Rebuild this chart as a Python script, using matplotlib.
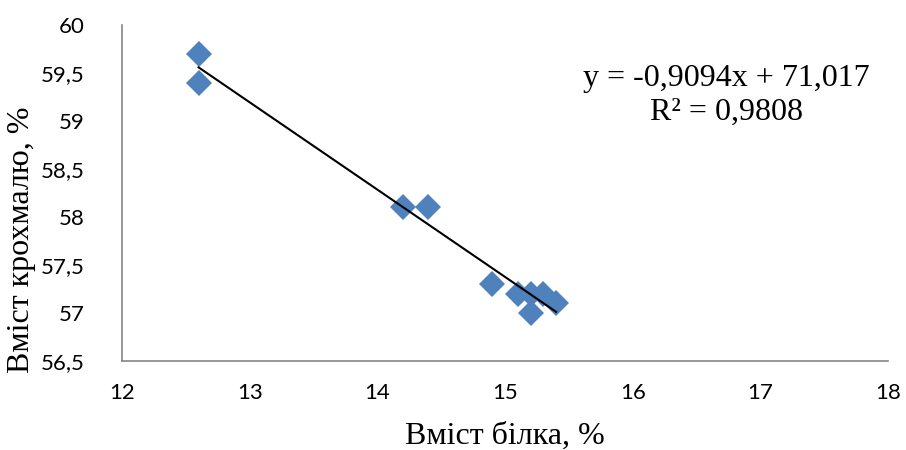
import matplotlib
matplotlib.use("Agg")
import matplotlib.pyplot as plt
import numpy as np

protein = [12.6, 12.6, 14.2, 14.4, 14.9, 15.1, 15.2, 15.3, 15.4, 15.2]
starch = [59.7, 59.4, 58.1, 58.1, 57.3, 57.2, 57.2, 57.2, 57.1, 57.0]
slope, intercept = -0.9094, 71.017
eq_text = "y = -0,9094x + 71,017\nR² = 0,9808"
x_ticks = [12, 13, 14, 15, 16, 17, 18]
y_ticks = [56.5, 57, 57.5, 58, 58.5, 59, 59.5, 60]

fig = plt.figure(figsize=(9.06, 4.5), dpi=100)
ax = fig.add_axes([122/906, 89/450, 766/906, 336/450])

ax.plot(protein, starch, linestyle="none", marker="D", markersize=13,
        color="#4F81BD", markeredgewidth=0, zorder=3)
xs = np.array([min(protein), max(protein)])
ax.plot(xs, slope * xs + intercept, color="black", linewidth=1.5, zorder=4)

ax.set_xlim(12, 18)
ax.set_ylim(56.5, 60)
ax.set_xticks(x_ticks)
ax.set_yticks(y_ticks)
ax.set_xticklabels([str(t) for t in x_ticks], fontfamily="Lato", fontsize=16)
ax.set_yticklabels([f"{t:g}".replace(".", ",") for t in y_ticks], fontfamily="Lato", fontsize=16)
ax.tick_params(axis="y", length=0, pad=27)
ax.tick_params(axis="x", length=0, pad=16)
for s in ["top", "right"]:
    ax.spines[s].set_visible(False)
for s in ["left", "bottom"]:
    ax.spines[s].set_color("#868686")
    ax.spines[s].set_linewidth(1.2)

ax.set_xlabel("Вміст білка, %", fontfamily="Liberation Serif", fontsize=23, va="center")
ax.xaxis.set_label_coords(0.5, (361 - 436) / 336)
ax.set_ylabel("Вміст крохмалю, %", fontfamily="Liberation Serif", fontsize=23, va="center")
ax.yaxis.set_label_coords((22 - 122) / 766, (361 - 240) / 336)

ax.text(0.789, 0.79, eq_text, transform=ax.transAxes, ha="center", va="center",
        fontfamily="Liberation Serif", fontsize=23, linespacing=1.2)

fig.savefig("out.png", dpi=100)
